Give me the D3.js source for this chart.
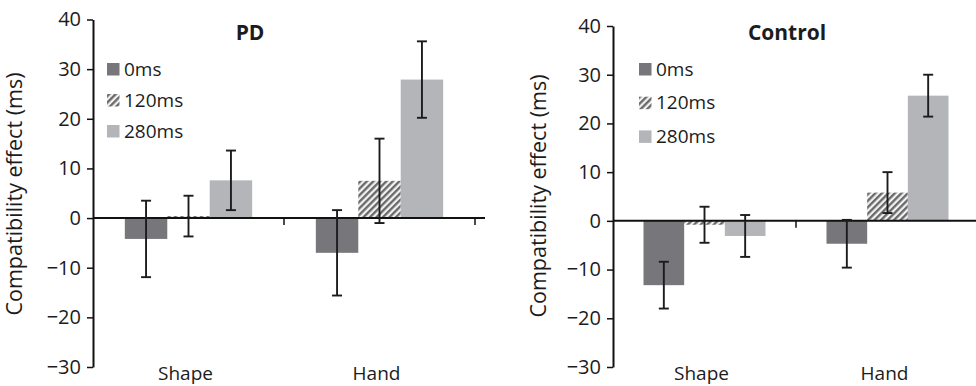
<!DOCTYPE html>
<html>
<head>
<meta charset="utf-8">
<script src="https://cdn.jsdelivr.net/npm/d3@7"></script>
<style>
  html, body { margin: 0; padding: 0; background: #fff; }
  svg { display: block; }
  text { font-family: "Open Sans", "DejaVu Sans", sans-serif; fill: #1c1c1c; }
</style>
</head>
<body>
<svg id="chart" width="976" height="386"></svg>
<script>
// ---- data ----
const categories = ["Shape", "Hand"];
const delays = ["0ms", "120ms", "280ms"];
const yTicks = [-30, -20, -10, 0, 10, 20, 30, 40];
// rows: categories, columns: delays
const pdMeans = [[-4.2, 0.4, 7.6], [-7.0, 7.5, 27.9]];
const pdErrors = [[7.7, 4.1, 6.0], [8.6, 8.5, 7.7]];
const controlMeans = [[-13.2, -0.8, -3.1], [-4.7, 5.8, 25.7]];
const controlErrors = [[4.8, 3.7, 4.3], [4.9, 4.2, 4.3]];

const svg = d3.select("#chart");
const defs = svg.append("defs");
const pat = defs.append("pattern")
  .attr("id", "hatch").attr("patternUnits", "userSpaceOnUse")
  .attr("width", 4.6).attr("height", 4.6)
  .attr("patternTransform", "rotate(45)");
pat.append("rect").attr("width", 4.6).attr("height", 4.6).attr("fill", "#f2f2f2");
pat.append("line").attr("x1", 1.2).attr("y1", 0).attr("x2", 1.2).attr("y2", 4.6)
  .attr("stroke", "#666").attr("stroke-width", 2.3);

const fills = ["#77777b", "url(#hatch)", "#b4b5b9"];

function panel(cfg) {
  const g = svg.append("g");
  const x0 = d3.scaleBand().domain(categories).range([cfg.left, cfg.right])
    .paddingInner(1/3).paddingOuter(1/6);
  const x1 = d3.scaleBand().domain(delays).range([0, x0.bandwidth()]);
  const y = d3.scaleLinear().domain([-30, 40]).range([cfg.bottom, cfg.top]);

  const rows = [];
  categories.forEach((c, i) => delays.forEach((d, j) => {
    rows.push({ c, d, j, m: cfg.means[i][j], e: cfg.errors[i][j] });
  }));

  // bars
  g.selectAll("rect.bar").data(rows).join("rect")
    .attr("class", "bar")
    .attr("x", r => x0(r.c) + x1(r.d))
    .attr("width", x1.bandwidth())
    .attr("y", r => y(Math.max(0, r.m)))
    .attr("height", r => Math.abs(y(r.m) - y(0)))
    .attr("fill", r => fills[r.j]);

  // y axis
  const ya = g.append("g").attr("transform", `translate(${cfg.left},0)`)
    .call(d3.axisLeft(y).tickValues(yTicks).tickSize(6).tickSizeOuter(0).tickPadding(6)
      .tickFormat(v => v < 0 ? "\u2212" + Math.abs(v) : v));
  ya.select(".domain").attr("stroke", "#111").attr("stroke-width", 2);
  ya.selectAll(".tick line").attr("stroke", "#111").attr("stroke-width", 1.5);
  ya.selectAll(".tick text").style("font-size", "20px").attr("fill", "#1c1c1c");

  // x axis at zero
  const y0 = y(0);
  g.append("line").attr("x1", cfg.left).attr("x2", cfg.right + 10)
    .attr("y1", y0).attr("y2", y0).attr("stroke", "#111").attr("stroke-width", 2);
  const bounds = categories.map(c => x0(c) + x0.bandwidth() + x0.step() * x0.paddingInner() / 2);
  g.selectAll("line.xt").data(bounds).join("line").attr("class", "xt")
    .attr("x1", b => b).attr("x2", b => b).attr("y1", y0).attr("y2", y0 + 7)
    .attr("stroke", "#111").attr("stroke-width", 1.5);

  // category labels
  g.selectAll("text.cat").data(categories).join("text").attr("class", "cat")
    .attr("x", c => x0(c) + x0.bandwidth() / 2 - 3).attr("y", 380)
    .attr("text-anchor", "middle").style("font-size", "19px").text(c => c);

  // error bars
  const eg = g.append("g").attr("stroke", "#1c1c1c").attr("stroke-width", 1.9);
  rows.forEach(r => {
    const cx = x0(r.c) + x1(r.d) + x1.bandwidth() / 2;
    eg.append("line").attr("x1", cx).attr("x2", cx).attr("y1", y(r.m + r.e)).attr("y2", y(r.m - r.e));
    [r.m + r.e, r.m - r.e].forEach(v => {
      eg.append("line").attr("x1", cx - 5).attr("x2", cx + 5).attr("y1", y(v)).attr("y2", y(v));
    });
  });

  // y label
  g.append("text").attr("transform", `translate(${cfg.ylabX},${cfg.ylabY}) rotate(-90)`)
    .attr("text-anchor", "middle").style("font-size", "21.5px").text("Compatibility effect (ms)");

  // title
  g.append("text").attr("x", cfg.titleX).attr("y", 40).attr("text-anchor", "middle")
    .style("font-size", "21px").style("font-weight", "bold").text(cfg.title);

  // legend
  delays.forEach((d, j) => {
    const ty = cfg.legTop + j * cfg.legStep;
    g.append("rect").attr("x", cfg.legX).attr("y", ty).attr("width", 12.5).attr("height", 12.5)
      .attr("fill", fills[j]);
    g.append("text").attr("x", cfg.legX + 17).attr("y", ty + 12.5).style("font-size", "19px").text(d);
  });
}

panel({ left: 93, right: 475, top: 19.5, bottom: 367, means: pdMeans, errors: pdErrors,
  title: "PD", titleX: 250, ylabX: 22, ylabY: 194, legX: 107, legTop: 63, legStep: 31 });
panel({ left: 613, right: 979, top: 26, bottom: 367, means: controlMeans, errors: controlErrors,
  title: "Control", titleX: 787, ylabX: 546, ylabY: 196, legX: 639, legTop: 63, legStep: 33.7 });
</script>
</body>
</html>
